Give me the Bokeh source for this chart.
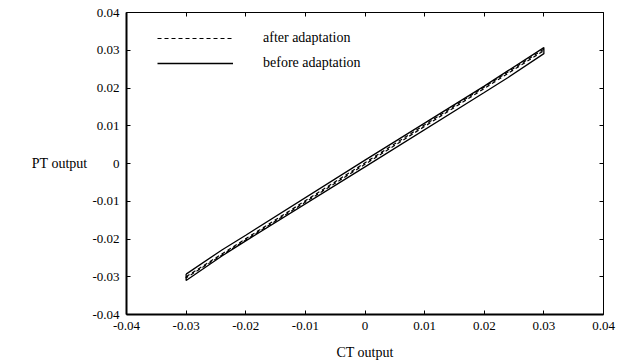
from bokeh.plotting import figure
from bokeh.models import (LinearAxis, FixedTicker, Legend, LegendItem, Range1d,
                          CustomLabelingPolicy)
from bokeh.embed import file_html
from bokeh.resources import INLINE

# ---- data ----
# "before adaptation" loop (solid), traced around its outline
before_x = [-0.030, -0.024, -0.020, 0.000, 0.020, 0.024, 0.030,
            0.030, 0.024, 0.020, 0.000, -0.020, -0.024, -0.030, -0.030]
before_y = [-0.0293, -0.0229, -0.0190, 0.0009, 0.0205, 0.0246, 0.0307,
            0.0291, 0.0228, 0.0188, -0.0009, -0.0205, -0.0245, -0.0310, -0.0293]

# "after adaptation" loop (dashed), much thinner
after_x = [-0.030, 0.000, 0.030, 0.030, 0.000, -0.030, -0.030]
after_y = [-0.0300, 0.0002, 0.0303, 0.0299, -0.0002, -0.0303, -0.0300]

x_ticks = [-0.04, -0.03, -0.02, -0.01, 0.0, 0.01, 0.02, 0.03, 0.04]
x_tick_labels = ["-0.04", "-0.03", "-0.02", "-0.01", "0", "0.01", "0.02", "0.03", "0.04"]
y_ticks = [-0.04, -0.03, -0.02, -0.01, 0.0, 0.01, 0.02, 0.03, 0.04]
y_tick_labels = ["-0.04", "-0.03", "-0.02", "-0.01", "0", "0.01", "0.02", "0.03", "0.04"]

x_label = "CT output"
y_label = "PT output"
series_names = ["after adaptation", "before adaptation"]

FONT = "Liberation Serif"

p = figure(width=634, height=363, output_backend="svg", toolbar_location=None,
           x_range=Range1d(-0.04, 0.04), y_range=Range1d(-0.04, 0.04),
           x_axis_location=None, y_axis_location=None,
           min_border_left=126, min_border_right=31, min_border_top=12,
           min_border_bottom=49)
p.outline_line_color = None
p.xgrid.visible = False
p.ygrid.visible = False
p.background_fill_color = "white"
p.border_fill_color = "white"


def make_axis(ticks, labels, show_labels, width, axis_label=None):
    ax = LinearAxis(ticker=FixedTicker(ticks=ticks))
    ax.major_label_overrides = {t: l for t, l in zip(ticks, labels)}
    ax.major_tick_in = 4
    ax.major_tick_out = 0
    ax.minor_tick_in = 0
    ax.minor_tick_out = 0
    ax.axis_line_width = width
    ax.axis_line_color = "black"
    ax.major_tick_line_color = "black"
    ax.major_label_text_font = FONT
    ax.major_label_text_font_size = "13px"
    ax.major_label_text_color = "black"
    ax.major_label_standoff = 7
    if not show_labels:
        ax.major_label_policy = CustomLabelingPolicy(code="return new Set()")
        ax.major_label_standoff = 0
    if axis_label:
        ax.axis_label = axis_label
        ax.axis_label_text_font = FONT
        ax.axis_label_text_font_size = "14px"
        ax.axis_label_text_font_style = "normal"
        ax.axis_label_text_color = "black"
    return ax


bottom = make_axis(x_ticks, x_tick_labels, True, 2, x_label)
bottom.axis_label_standoff = 12
left = make_axis(y_ticks, y_tick_labels, True, 2, y_label)
left.axis_label_orientation = "horizontal"
left.axis_label_standoff = 2
top = make_axis(x_ticks, x_tick_labels, False, 1)
right = make_axis(y_ticks, y_tick_labels, False, 1)

p.add_layout(bottom, "below")
p.add_layout(left, "left")
p.add_layout(top, "above")
p.add_layout(right, "right")

r_before = p.line(before_x, before_y, line_color="black", line_width=1.3)
r_after = p.line(after_x, after_y, line_color="black", line_width=1.2,
                 line_dash="4 3")

legend = Legend(items=[LegendItem(label=series_names[0], renderers=[r_after]),
                       LegendItem(label=series_names[1], renderers=[r_before])],
                location=(31, 241), orientation="vertical",
                border_line_color=None, background_fill_alpha=0,
                padding=0, margin=0, spacing=5,
                glyph_width=76, glyph_height=20, label_height=20,
                label_standoff=30,
                label_text_font=FONT, label_text_font_size="14px",
                label_text_color="black")
p.add_layout(legend, "center")

open("out.html", "w").write(file_html(p, INLINE))
